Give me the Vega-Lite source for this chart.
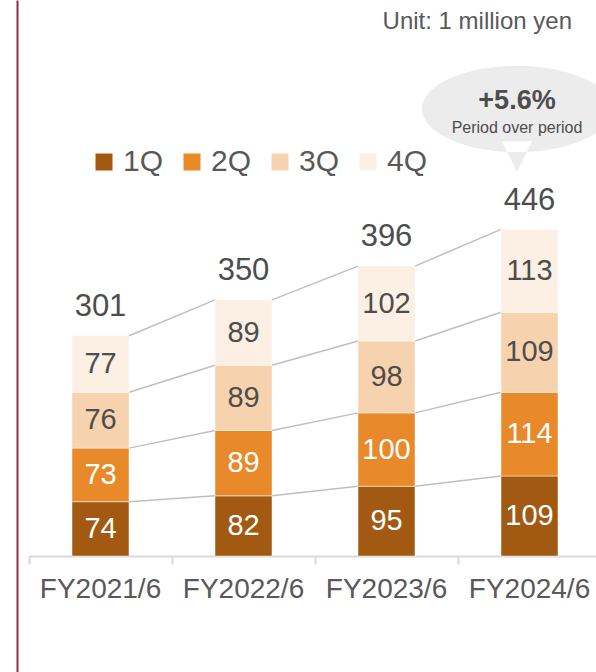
{
  "$schema": "https://vega.github.io/schema/vega-lite/v6.json",
  "width": 567,
  "height": 672,
  "autosize": "none",
  "padding": {"left": 29, "top": 0, "right": 0, "bottom": 0},
  "background": "white",
  "config": {
    "view": {"stroke": null},
    "font": "Liberation Sans",
    "text": {"font": "Liberation Sans"}
  },
  "datasets": {
    "quarters": [
      {"year": "FY2021/6", "q": "1Q", "value": 74},
      {"year": "FY2021/6", "q": "2Q", "value": 73},
      {"year": "FY2021/6", "q": "3Q", "value": 76},
      {"year": "FY2021/6", "q": "4Q", "value": 77},
      {"year": "FY2022/6", "q": "1Q", "value": 82},
      {"year": "FY2022/6", "q": "2Q", "value": 89},
      {"year": "FY2022/6", "q": "3Q", "value": 89},
      {"year": "FY2022/6", "q": "4Q", "value": 89},
      {"year": "FY2023/6", "q": "1Q", "value": 95},
      {"year": "FY2023/6", "q": "2Q", "value": 100},
      {"year": "FY2023/6", "q": "3Q", "value": 98},
      {"year": "FY2023/6", "q": "4Q", "value": 102},
      {"year": "FY2024/6", "q": "1Q", "value": 109},
      {"year": "FY2024/6", "q": "2Q", "value": 114},
      {"year": "FY2024/6", "q": "3Q", "value": 109},
      {"year": "FY2024/6", "q": "4Q", "value": 113}
    ],
    "totals": [
      {"year": "FY2021/6", "total": 301},
      {"year": "FY2022/6", "total": 350},
      {"year": "FY2023/6", "total": 396},
      {"year": "FY2024/6", "total": 446}
    ],
    "links": [
      {"year": "FY2021/6", "next": "FY2022/6", "from": 74, "to": 82},
      {"year": "FY2021/6", "next": "FY2022/6", "from": 147, "to": 171},
      {"year": "FY2021/6", "next": "FY2022/6", "from": 223, "to": 260},
      {"year": "FY2021/6", "next": "FY2022/6", "from": 300, "to": 349},
      {"year": "FY2022/6", "next": "FY2023/6", "from": 82, "to": 95},
      {"year": "FY2022/6", "next": "FY2023/6", "from": 171, "to": 195},
      {"year": "FY2022/6", "next": "FY2023/6", "from": 260, "to": 293},
      {"year": "FY2022/6", "next": "FY2023/6", "from": 349, "to": 395},
      {"year": "FY2023/6", "next": "FY2024/6", "from": 95, "to": 109},
      {"year": "FY2023/6", "next": "FY2024/6", "from": 195, "to": 223},
      {"year": "FY2023/6", "next": "FY2024/6", "from": 293, "to": 332},
      {"year": "FY2023/6", "next": "FY2024/6", "from": 395, "to": 445}
    ],
    "notes": [
      {"year": "FY2024/6", "level": 609, "big": "+5.6%", "small": "Period over period", "unitLevel": 727, "unit": "Unit: 1 million yen"}
    ]
  },
  "layer": [
    {
      "data": {"name": "links"},
      "mark": {"type": "rule", "color": "#bfbfbf", "strokeWidth": 1.5, "xOffset": 28.5, "x2Offset": -28.5},
      "encoding": {
        "x": {"field": "year", "type": "nominal"},
        "x2": {"field": "next"},
        "y": {"field": "from", "type": "quantitative"},
        "y2": {"field": "to"}
      }
    },
    {
      "data": {"name": "quarters"},
      "mark": {"type": "bar", "width": {"band": 0.3986}, "stroke": "#ffffff", "strokeWidth": 0.8, "strokeOpacity": 0.6},
      "encoding": {
        "x": {
          "field": "year", "type": "nominal", "sort": null,
          "scale": {"domain": ["FY2021/6", "FY2022/6", "FY2023/6", "FY2024/6"], "range": [0, 572], "paddingInner": 0, "paddingOuter": 0},
          "axis": {
            "title": null, "orient": "bottom", "offset": -116, "bandPosition": 0,
            "domainColor": "#d9d9d9", "domainWidth": 2, "tickColor": "#d9d9d9", "tickWidth": 2, "tickSize": 8,
            "labelFontSize": 28, "labelColor": "#595959", "labelFont": "Liberation Sans", "labelPadding": 25, "labelAngle": 0,
            "labelAlign": "center", "grid": false
          }
        },
        "y": {
          "field": "value", "type": "quantitative", "stack": "zero",
          "scale": {"domain": [-158, 757.5], "nice": false, "zero": false},
          "axis": {"title": null, "orient": "left", "offset": 12, "labels": false, "ticks": false, "grid": false, "domainColor": "#8b2e3c", "domainWidth": 2}
        },
        "color": {
          "field": "q", "type": "nominal",
          "scale": {"domain": ["1Q", "2Q", "3Q", "4Q"], "range": ["#a25a13", "#e8892a", "#f6d3ae", "#fcefe4"]},
          "legend": {
            "title": null, "orient": "none", "legendX": 60, "legendY": 147, "direction": "horizontal",
            "symbolType": "square", "symbolSize": 289, "symbolStrokeWidth": 0, "labelFontSize": 30,
            "labelColor": "#595959", "labelFont": "Liberation Sans", "labelOffset": 4, "columnPadding": 13, "padding": 0
          }
        },
        "order": {"field": "q", "sort": "ascending"}
      }
    },
    {
      "data": {"name": "quarters"},
      "mark": {"type": "text", "fontSize": 29, "baseline": "middle", "align": "center"},
      "encoding": {
        "x": {"field": "year", "type": "nominal"},
        "y": {"field": "value", "type": "quantitative", "stack": "zero", "bandPosition": 0.5},
        "detail": {"field": "q"},
        "order": {"field": "q", "sort": "ascending"},
        "text": {"field": "value"},
        "color": {"condition": {"test": "datum.q === '1Q' || datum.q === '2Q'", "value": "#ffffff"}, "value": "#4d4d4d"}
      }
    },
    {
      "data": {"name": "totals"},
      "mark": {"type": "text", "fontSize": 31, "baseline": "alphabetic", "align": "center", "dy": -19, "color": "#4d4d4d"},
      "encoding": {
        "x": {"field": "year", "type": "nominal"},
        "y": {"field": "total", "type": "quantitative"},
        "text": {"field": "total"}
      }
    },
    {
      "data": {"name": "notes"},
      "mark": {
        "type": "point", "filled": true, "opacity": 1, "strokeWidth": 0, "fill": "#ececec", "size": 36100, "xOffset": -12.5,
        "shape": "M-1,0A1,0.4526,0,1,1,1,0A1,0.4526,0,1,1,-1,0ZM-0.16,0.34L0,0.66L0.16,0.34Z"
      },
      "encoding": {
        "x": {"field": "year", "type": "nominal"},
        "y": {"field": "level", "type": "quantitative"}
      }
    },
    {
      "data": {"name": "notes"},
      "mark": {"type": "text", "fontSize": 27, "fontWeight": "bold", "baseline": "middle", "align": "center", "dx": -12.5, "dy": -8, "color": "#4d4d4d"},
      "encoding": {
        "x": {"field": "year", "type": "nominal"},
        "y": {"field": "level", "type": "quantitative"},
        "text": {"field": "big"}
      }
    },
    {
      "data": {"name": "notes"},
      "mark": {"type": "text", "fontSize": 16, "baseline": "middle", "align": "center", "dx": -12.5, "dy": 19, "color": "#4d4d4d"},
      "encoding": {
        "x": {"field": "year", "type": "nominal"},
        "y": {"field": "level", "type": "quantitative"},
        "text": {"field": "small"}
      }
    },
    {
      "data": {"name": "notes"},
      "mark": {"type": "text", "fontSize": 24, "baseline": "middle", "align": "right", "dx": 42.5, "color": "#595959"},
      "encoding": {
        "x": {"field": "year", "type": "nominal"},
        "y": {"field": "unitLevel", "type": "quantitative"},
        "text": {"field": "unit"}
      }
    }
  ]
}
